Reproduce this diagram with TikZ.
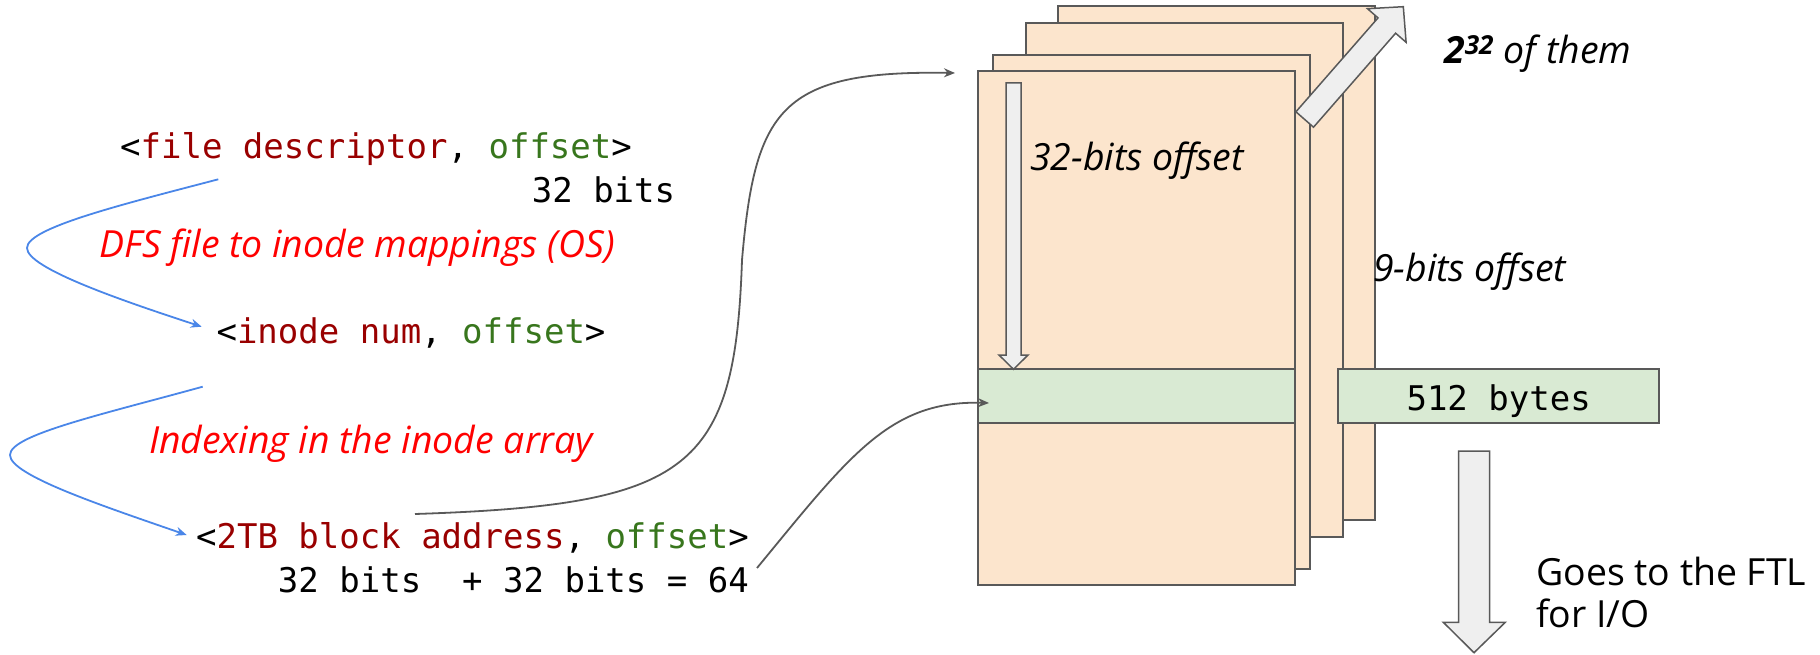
\documentclass[tikz,border=0pt]{standalone}
\usepackage{fontspec}
\setmonofont{DejaVu Sans Mono}
\newfontfamily\osans{Open Sans}
\usetikzlibrary{arrows.meta}
\definecolor{pagefill}{HTML}{FCE5CD}
\definecolor{bandfill}{HTML}{D9EAD3}
\definecolor{edgegray}{HTML}{595959}
\definecolor{arrowfill}{HTML}{EFEFEF}
\definecolor{flowblue}{HTML}{4A86E8}
\definecolor{kdarkred}{HTML}{990000}
\definecolor{kdarkgreen}{HTML}{38761D}
\newcommand{\kred}[1]{\textcolor{kdarkred}{#1}}
\newcommand{\kgreen}[1]{\textcolor{kdarkgreen}{#1}}
\begin{document}
\begin{tikzpicture}[x=1pt,y=-1pt,
  page/.style={fill=pagefill, draw=edgegray, line width=2pt, anchor=north west,
    minimum width=317pt, minimum height=513.5pt, inner sep=0pt, outer sep=0pt},
  band/.style={fill=bandfill, draw=edgegray, line width=2pt, anchor=north west,
    minimum height=54pt, inner sep=0pt, outer sep=0pt},
  blockarrow/.style={fill=arrowfill, draw=edgegray, line width=1.5pt, line join=miter},
  link/.style={draw=edgegray, line width=1.8pt, -{Stealth[length=11pt,width=9pt]}},
  flow/.style={draw=flowblue, line width=1.8pt, -{Stealth[length=11pt,width=9pt]}},
  mono/.style={font=\ttfamily\fontsize{34}{40}\selectfont, inner sep=0pt, anchor=base},
  note/.style={font=\osans\itshape\fontsize{37.4}{44}\selectfont, inner sep=0pt, anchor=base},
  plain/.style={font=\osans\fontsize{37.4}{44}\selectfont, inner sep=0pt, anchor=base west}
]
\useasboundingbox (0,0) rectangle (1820,655);

% ---- left column texts
\node[mono] (fd) at (376,159) {<\kred{file descriptor}, \kgreen{offset}>};
\node[mono] (fdbits) at (603.5,203) {32 bits};
\node[note, text=red] (dfs) at (357,257.5) {DFS file to inode mappings (OS)};
\node[mono] (inode) at (411,343) {<\kred{inode num}, \kgreen{offset}>};
\node[note, text=red] (idx) at (371,453) {Indexing in the inode array};
\node[mono, anchor=base east] (blk) at (749,548) {<\kred{2TB block address}, \kgreen{offset}>};
\node[mono, anchor=base east] (blkbits) at (749,592) {32 bits\ \ + 32 bits = 64};

% ---- stacked pages
\node[page] (p4) at (1058,6.5) {};
\node[page] (p3) at (1026,23.5) {};
\node[page] (p2) at (993,55) {};
\node[page] (p1) at (977.5,71.5) {};
\node[band, minimum width=317pt] (band) at (977.5,369.3) {};

% inner down arrow (32-bit offset)
\draw[blockarrow] (1006,83) -- (1021,83) -- (1021,355) -- (1028,355) -- (1013.5,369.3)
  -- (999,355) -- (1006,355) -- cycle;
\node[note, anchor=base west] (off32) at (1030,170.5) {32-bits offset};

% diagonal arrow (2^32 of them)
\draw[blockarrow] (1295.9,111.8) -- (1378.0,17.9) -- (1367.5,8.7) -- (1403.3,6.7)
  -- (1406.1,42.3) -- (1395.6,33.2) -- (1313.5,127.2) -- cycle;
\node[note, anchor=base west] (many) at (1444,63.3) {{\bfseries 2\textsuperscript{32}} of them};

\node[note, anchor=base west] (off9) at (1373,281.7) {9-bits offset};

% 512 bytes box
\node[band, minimum width=320.7pt, font=\ttfamily\fontsize{34}{40}\selectfont,
  text height=27.4pt, text depth=0pt] (bytes) at (1338.3,369.3) {512 bytes};

% down arrow to FTL
\draw[blockarrow] (1458.5,451) -- (1489.5,451) -- (1489.5,622.3) -- (1505.3,622.3)
  -- (1474,652.7) -- (1443.3,622.3) -- (1458.5,622.3) -- cycle;
\node[plain] (ftl1) at (1536,585) {Goes to the FTL};
\node[plain] (ftl2) at (1536,627) {for I/O};

% ---- connector end points
\coordinate (fdout) at (218.3,179.3);
\coordinate (inodein) at (201.7,326.7);
\coordinate (inodeout) at (202.7,386.7);
\coordinate (blkin) at (186.7,535);
\coordinate (blkout) at (415,514);
\coordinate (pagein) at (955,73);
\coordinate (bitsout) at (757,568);
\coordinate (bandin) at (989,403);

% blue flow arrows
\draw[flow] (fdout) .. controls (120,205) and (27,228) .. (27,248)
  .. controls (27,268) and (120,300) .. (inodein);
\draw[flow] (inodeout) .. controls (100,415) and (10,435) .. (10,455)
  .. controls (10,475) and (100,505) .. (blkin);

% gray links
\draw[link] (blkout) .. controls (690,505) and (735,470) .. (742,260)
  .. controls (755,110) and (780,70) .. (pagein);
\draw[link] (bitsout) .. controls (850,455) and (890,400) .. (bandin);
\end{tikzpicture}
\end{document}
